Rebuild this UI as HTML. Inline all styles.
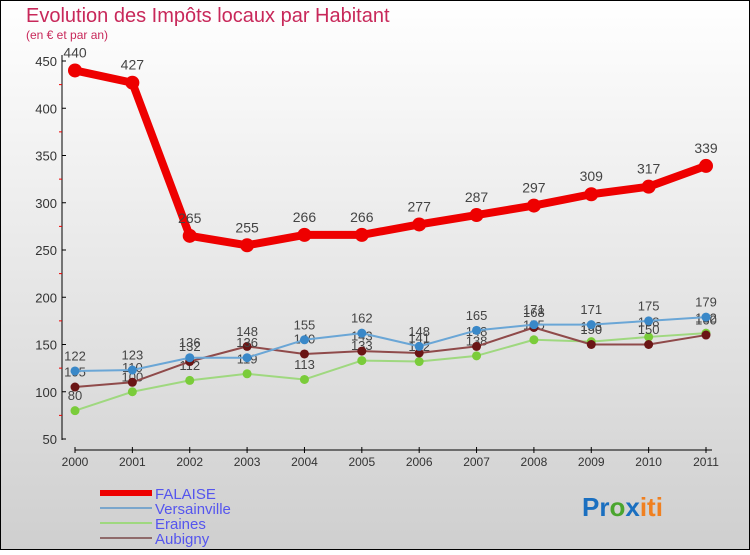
<!DOCTYPE html>
<html><head><meta charset="utf-8"><style>
body{margin:0;}
svg text{font-family:"Liberation Sans",sans-serif;}
</style></head><body>
<svg id="c" width="750" height="550" viewBox="0 0 750 550" xmlns="http://www.w3.org/2000/svg">
<defs><linearGradient id="bg" x1="0" y1="0" x2="0" y2="1"><stop offset="0" stop-color="#ffffff"/><stop offset="1" stop-color="#cfcfcf"/></linearGradient></defs>
<rect x="0.5" y="0.5" width="749" height="549" fill="url(#bg)" stroke="#000"/>
<text x="26" y="22" font-size="20" fill="#c8285a">Evolution des Impôts locaux par Habitant</text>
<text x="26" y="39" font-size="12" fill="#c8285a">(en € et par an)</text>
<g id="axes"></g><g id="series"></g>
<g>
<line x1="100" y1="493" x2="152" y2="493" stroke="#e00" stroke-width="6"/><text x="155" y="499" font-size="15" fill="#5555ee">FALAISE</text>
<line x1="100" y1="508" x2="152" y2="508" stroke="#7aa6cc" stroke-width="2"/><text x="155" y="514" font-size="15" fill="#5555ee">Versainville</text>
<line x1="100" y1="523" x2="152" y2="523" stroke="#9fd87f" stroke-width="2"/><text x="155" y="529" font-size="15" fill="#5555ee">Eraines</text>
<line x1="100" y1="538" x2="152" y2="538" stroke="#8f6a6a" stroke-width="2"/><text x="155" y="544" font-size="15" fill="#5555ee">Aubigny</text>
</g>
<text x="582" y="516" font-size="26" font-weight="bold"><tspan fill="#1a6fc0">Pr</tspan><tspan fill="#4aa52e">o</tspan><tspan fill="#1a6fc0">x</tspan><tspan fill="#f08020">iti</tspan></text>
</svg>
<script>
const years=["2000","2001","2002","2003","2004","2005","2006","2007","2008","2009","2010","2011"];
const falaise=[440,427,265,255,266,266,277,287,297,309,317,339];
const versainville=[122,123,136,136,155,162,148,165,171,171,175,179];
const eraines=[80,100,112,119,113,133,132,138,155,153,158,162];
const aubigny=[105,110,132,148,140,143,141,148,168,150,150,160];
const yTicks=[50,100,150,200,250,300,350,400,450];
const NS="http://www.w3.org/2000/svg";
const xs=i=>75+i*(706-75)/11;
const ys=v=>439-(v-50)*(439-61)/400;
function mk(t,a,p){const e=document.createElementNS(NS,t);for(const k in a)e.setAttribute(k,a[k]);p.appendChild(e);return e;}
const ax=document.getElementById('axes');
let l=mk('line',{x1:62,y1:55,x2:62,y2:440,stroke:'#000'},ax);


yTicks.forEach(v=>{
 mk('line',{x1:62,y1:ys(v),x2:66,y2:ys(v),stroke:'#000'},ax);
 if(v<450){mk('line',{x1:59,y1:ys(v+25),x2:62,y2:ys(v+25),stroke:'#e00'},ax);}
 const t=mk('text',{x:57,y:ys(v)+5,'font-size':13,fill:'#333','text-anchor':'end'},ax);t.textContent=v;
 
 
});
l=mk('line',{x1:75,y1:450,x2:712,y2:450,stroke:'#000'},ax);


years.forEach((y,i)=>{
 mk('line',{x1:xs(i),y1:447,x2:xs(i),y2:453,stroke:'#000'},ax);
 const t=mk('text',{x:xs(i),y:466,'font-size':12,fill:'#333','text-anchor':'middle'},ax);t.textContent=y;
 
 
});
const sg=document.getElementById('series');
function draw(name,data,col,dot,w,r,fs){
 const g=mk('g',{},sg);
 
 
 const p=mk('polyline',{points:data.map((v,i)=>xs(i)+','+ys(v)).join(' '),fill:'none',stroke:col,'stroke-width':w,'stroke-linejoin':'round'},g);
 
 
 data.forEach((v,i)=>{
  const c=mk('circle',{cx:xs(i),cy:ys(v),r:r,fill:dot},g);
  
  
  const t=mk('text',{x:xs(i),y:ys(v)-(r+6),'font-size':fs,fill:'#444','text-anchor':'middle'},g);t.textContent=v;
  
  
 });
}
draw('eraines',eraines,'#9fd87f','#7acc3a',2,4.5,13);
draw('aubigny',aubigny,'#8f4a4a','#6a1515',2,4.5,13);
draw('versainville',versainville,'#6aa6d6','#3a88c8',2,4.5,13);
draw('falaise',falaise,'#ee0000','#ee0000',8,7,14);
</script>
</body></html>
